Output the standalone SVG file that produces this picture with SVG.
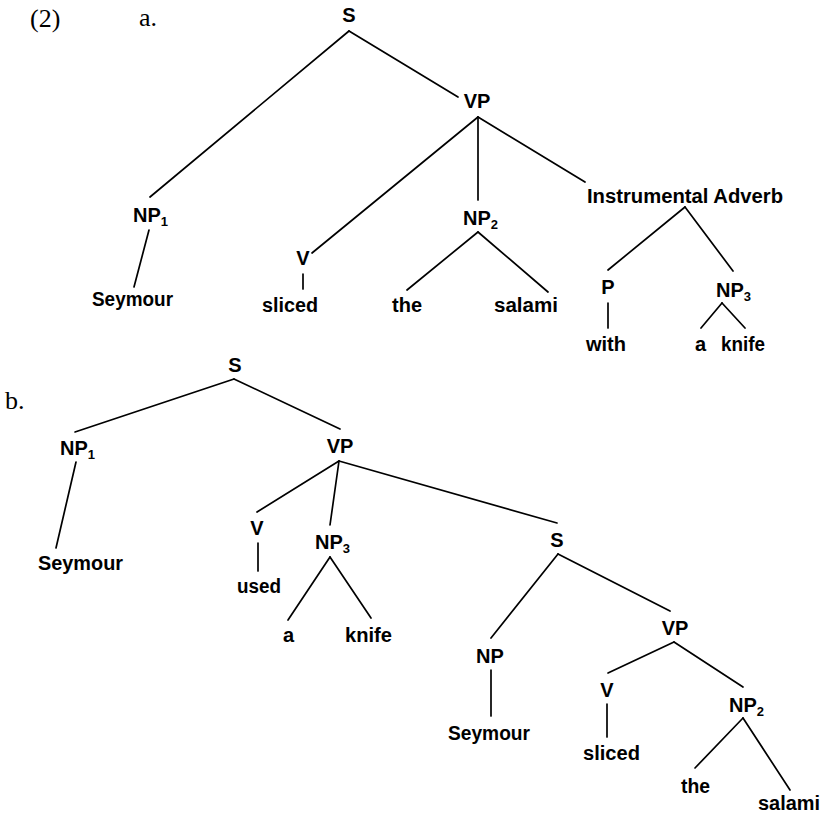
<svg xmlns="http://www.w3.org/2000/svg" width="826" height="814" viewBox="0 0 826 814">
<style>
.l{font-family:"Liberation Sans",Arial,sans-serif;font-weight:bold;font-size:20px;fill:#000}
.sub{font-size:13px}
.num{font-family:"Liberation Serif","Times New Roman",serif;font-size:26px;fill:#000}
.e{stroke:#000;stroke-width:1.7;fill:none;stroke-linecap:round}
</style>
<rect width="826" height="814" fill="#fff"/>
<text class="num" x="30" y="27">(2)</text>
<text class="num" x="139" y="26">a.</text>
<text class="num" x="5" y="409">b.</text>

<g id="edges-a" class="e">
<line x1="349" y1="31" x2="150" y2="197"/>
<line x1="349" y1="31" x2="458" y2="97"/>
<line x1="149" y1="230" x2="134" y2="287"/>
<line x1="478" y1="117" x2="312" y2="253"/>
<line x1="478" y1="117" x2="478" y2="200"/>
<line x1="478" y1="117" x2="585" y2="182"/>
<line x1="303" y1="274" x2="303" y2="289"/>
<line x1="478" y1="232" x2="407" y2="290"/>
<line x1="478" y1="232" x2="548" y2="292"/>
<line x1="685" y1="207" x2="608" y2="270"/>
<line x1="685" y1="207" x2="733" y2="271"/>
<line x1="608" y1="303" x2="608" y2="328"/>
<line x1="722" y1="303" x2="701" y2="328"/>
<line x1="722" y1="303" x2="745" y2="328"/>
</g>

<g id="edges-b" class="e">
<line x1="234" y1="379" x2="75" y2="432"/>
<line x1="234" y1="379" x2="340" y2="429"/>
<line x1="76" y1="462" x2="56" y2="548"/>
<line x1="339" y1="461" x2="257" y2="512"/>
<line x1="339" y1="461" x2="330" y2="525"/>
<line x1="339" y1="461" x2="557" y2="523"/>
<line x1="258" y1="543" x2="258" y2="571"/>
<line x1="330" y1="557" x2="288" y2="620"/>
<line x1="330" y1="557" x2="371" y2="618"/>
<line x1="558" y1="554" x2="491" y2="638"/>
<line x1="558" y1="554" x2="670" y2="611"/>
<line x1="491" y1="670" x2="491" y2="716"/>
<line x1="674" y1="642" x2="608" y2="673"/>
<line x1="674" y1="642" x2="743" y2="687"/>
<line x1="607" y1="704" x2="607" y2="737"/>
<line x1="743" y1="718" x2="695" y2="768"/>
<line x1="743" y1="718" x2="790" y2="790"/>
</g>

<g id="tree-a">
<g id="a-S"><text class="l" x="349" y="22" text-anchor="middle">S</text></g>
<g id="a-VP"><text class="l" x="477" y="108" text-anchor="middle">VP</text></g>
<g id="a-NP1"><text class="l" x="133" y="222">NP<tspan class="sub" dy="4">1</tspan></text></g>
<g id="a-Seymour"><text class="l" x="92" y="306" textLength="81" lengthAdjust="spacingAndGlyphs">Seymour</text></g>
<g id="a-V"><text class="l" x="303" y="265" text-anchor="middle">V</text></g>
<g id="a-sliced"><text class="l" x="262" y="312" textLength="56" lengthAdjust="spacingAndGlyphs">sliced</text></g>
<g id="a-NP2"><text class="l" x="463" y="225">NP<tspan class="sub" dy="4">2</tspan></text></g>
<g id="a-the"><text class="l" x="392" y="312" textLength="30" lengthAdjust="spacingAndGlyphs">the</text></g>
<g id="a-salami"><text class="l" x="494" y="312" textLength="64" lengthAdjust="spacingAndGlyphs">salami</text></g>
<g id="a-InstrAdv"><text class="l" x="587" y="203" textLength="196" lengthAdjust="spacingAndGlyphs">Instrumental Adverb</text></g>
<g id="a-P"><text class="l" x="608" y="294" text-anchor="middle">P</text></g>
<g id="a-with"><text class="l" x="586" y="351" textLength="40" lengthAdjust="spacingAndGlyphs">with</text></g>
<g id="a-NP3"><text class="l" x="716" y="297">NP<tspan class="sub" dy="4">3</tspan></text></g>
<g id="a-a"><text class="l" x="695" y="351">a</text></g>
<g id="a-knife"><text class="l" x="721" y="351" textLength="44" lengthAdjust="spacingAndGlyphs">knife</text></g>
</g>

<g id="tree-b">
<g id="b-S"><text class="l" x="235" y="372" text-anchor="middle">S</text></g>
<g id="b-NP1"><text class="l" x="60" y="455">NP<tspan class="sub" dy="4">1</tspan></text></g>
<g id="b-Seymour1"><text class="l" x="38" y="570" textLength="85" lengthAdjust="spacingAndGlyphs">Seymour</text></g>
<g id="b-VP"><text class="l" x="340" y="453" text-anchor="middle">VP</text></g>
<g id="b-V"><text class="l" x="257" y="535" text-anchor="middle">V</text></g>
<g id="b-used"><text class="l" x="237" y="593" textLength="44" lengthAdjust="spacingAndGlyphs">used</text></g>
<g id="b-NP3"><text class="l" x="315" y="549">NP<tspan class="sub" dy="4">3</tspan></text></g>
<g id="b-a"><text class="l" x="283" y="642">a</text></g>
<g id="b-knife"><text class="l" x="345" y="642" textLength="47" lengthAdjust="spacingAndGlyphs">knife</text></g>
<g id="b-S2"><text class="l" x="557" y="547" text-anchor="middle">S</text></g>
<g id="b-NP"><text class="l" x="490" y="663" text-anchor="middle">NP</text></g>
<g id="b-Seymour2"><text class="l" x="448" y="740" textLength="82" lengthAdjust="spacingAndGlyphs">Seymour</text></g>
<g id="b-VP2"><text class="l" x="675" y="635" text-anchor="middle">VP</text></g>
<g id="b-V2"><text class="l" x="607" y="697" text-anchor="middle">V</text></g>
<g id="b-sliced"><text class="l" x="583" y="760" textLength="57" lengthAdjust="spacingAndGlyphs">sliced</text></g>
<g id="b-NP2"><text class="l" x="729" y="712">NP<tspan class="sub" dy="4">2</tspan></text></g>
<g id="b-the"><text class="l" x="681" y="793" textLength="29" lengthAdjust="spacingAndGlyphs">the</text></g>
<g id="b-salami"><text class="l" x="758" y="810" textLength="62" lengthAdjust="spacingAndGlyphs">salami</text></g>
</g>
</svg>
